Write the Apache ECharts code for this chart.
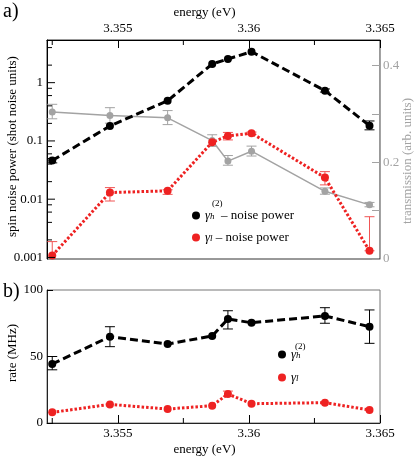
<!DOCTYPE html>
<html>
<head>
<meta charset="utf-8">
<script src="https://cdn.jsdelivr.net/npm/echarts@6/dist/echarts.min.js"></script>
<style>
html, body { margin: 0; padding: 0; background: #fff; }
#chart { width: 415px; height: 462px; }
</style>
</head>
<body>
<div id="chart"></div>
<script>
// photon energy of each measurement (eV)
const energy = [3.3525, 3.3547, 3.3569, 3.3586, 3.3592, 3.3601, 3.3629, 3.3646];

// a) spin noise power (shot noise units), gamma_h^(2) and gamma_l
const hNoise   = [0.046, 0.181, 0.49, 2.09, 2.55, 3.4, 0.73, 0.183];
const hNoiseLo = [0.042, null, null, null, null, null, 0.69, 0.155];
const hNoiseHi = [0.050, null, null, null, null, null, 0.78, 0.22];
const lNoise   = [0.00108, 0.013, 0.0139, 0.095, 0.122, 0.136, 0.0235, 0.0013];
const lNoiseLo = [0.0008, 0.0093, 0.0121, null, 0.104, 0.13, 0.0176, 0.0013];
const lNoiseHi = [0.00187, 0.0158, 0.0145, null, 0.14, 0.142, 0.0297, 0.005];

// a) transmission (arb. units)
const trans   = [0.304, 0.297, 0.292, 0.245, 0.2025, 0.223, 0.140, 0.112];
const transLo = [0.290, 0.281, 0.278, 0.233, 0.194, 0.213, 0.134, 0.108];
const transHi = [0.320, 0.313, 0.307, 0.257, 0.214, 0.2335, 0.147, 0.117];

// b) rates (MHz)
const hRate   = [44.4, 64.9, 59.4, 65.4, 78.2, 75.4, 80.5, 72.4];
const hRateLo = [40, 57.4, null, null, 70.7, null, 75, 59.9];
const hRateHi = [50, 72.4, null, null, 84.4, null, 86.7, 85];
const lRate   = [8, 14, 10.5, 13, 21.8, 14.5, 15.3, 9.8];
const lRateLo = [null, null, null, null, 20, null, null, null];
const lRateHi = [null, null, null, null, 24, null, null, null];

// tick values
const energyLabels = [3.355, 3.36, 3.365];
const energyMinor = [3.3525, 3.3575, 3.3625];
const noiseLabels = [0.001, 0.01, 0.1, 1];
const noiseMinor = [0.002, 0.004, 0.006, 0.008, 0.02, 0.04, 0.06, 0.08,
                    0.2, 0.4, 0.6, 0.8, 2, 4];
const transTicks = [0, 0.1, 0.2, 0.3, 0.4];
const transLabels = [0, 0.2, 0.4];
const rateLabels = [0, 50, 100];

// axis ranges
const E_MIN = 3.3523, E_MAX = 3.3650;
const N_MIN = 0.00094, N_MAX = 5.4;

const FONT = 'Liberation Serif';
const RED = '#ee2222';
const GRAY = '#a3a3a3';

function pairs(ys) {
  return energy.map((x, i) => [x, ys[i]]);
}
function bars(lo, hi) {
  const out = [];
  energy.forEach((x, i) => {
    if (lo[i] != null && hi[i] != null) out.push([x, lo[i], hi[i]]);
  });
  return out;
}
function errorBars(color, xi, yi, data) {
  return {
    type: 'custom', xAxisIndex: xi, yAxisIndex: yi,
    clip: true, silent: true,
    encode: { x: 0, y: [1, 2] },
    data: data,
    renderItem: function (params, api) {
      const lo = api.coord([api.value(0), api.value(1)]);
      const hi = api.coord([api.value(0), api.value(2)]);
      const w = 5;
      const st = { stroke: color, lineWidth: 1 };
      return {
        type: 'group',
        children: [
          { type: 'line', shape: { x1: lo[0], y1: lo[1], x2: hi[0], y2: hi[1] }, style: st },
          { type: 'line', shape: { x1: lo[0] - w, y1: lo[1], x2: lo[0] + w, y2: lo[1] }, style: st },
          { type: 'line', shape: { x1: hi[0] - w, y1: hi[1], x2: hi[0] + w, y2: hi[1] }, style: st }
        ]
      };
    }
  };
}
// short tick marks at data positions, pointing into the plot (dx, dy)
function tickMarks(xi, yi, data, dx, dy) {
  return {
    type: 'custom', xAxisIndex: xi, yAxisIndex: yi,
    clip: false, silent: true, z: 5,
    encode: { x: 0, y: 1 },
    data: data,
    renderItem: function (params, api) {
      const p = api.coord([api.value(0), api.value(1)]);
      return {
        type: 'line',
        shape: { x1: p[0], y1: p[1], x2: p[0] + dx, y2: p[1] + dy },
        style: { stroke: '#000', lineWidth: 1 }
      };
    }
  };
}

const legendText = {
  fontFamily: FONT, fontSize: 13, color: '#000',
  rich: {
    g: { fontFamily: FONT, fontSize: 13, fontStyle: 'italic' },
    s: { fontFamily: FONT, fontSize: 9, fontStyle: 'italic', padding: [3, 0, 0, 0] },
    t: { fontFamily: FONT, fontSize: 13 }
  }
};
const legendLabels = {
  hNoise: '{g|γ}{s|h}{t|  – noise power}',
  lNoise: '{g|γ}{s|l}{t| – noise power}',
  hRate: '{g|γ}{s|h}',
  lRate: '{g|γ}{s|l}'
};
function legend(name, left, top) {
  return {
    data: [name], left: left, top: top, orient: 'vertical',
    icon: 'circle', itemWidth: 8, itemHeight: 8, itemGap: 0, padding: 0,
    selectedMode: false, textStyle: legendText,
    formatter: n => legendLabels[n]
  };
}

const axisFont = { fontFamily: FONT, fontSize: 13, color: '#000' };

const option = {
  animation: false,
  grid: [
    { left: 47, top: 40, width: 333, height: 219, outerBoundsMode: 'none', containLabel: false,
      show: true, borderColor: '#333', borderWidth: 1 },
    { left: 47, top: 290, width: 333, height: 133, outerBoundsMode: 'none', containLabel: false,
      show: true, borderColor: '#777', borderWidth: 1 }
  ],
  xAxis: [
    {
      gridIndex: 0, type: 'value', position: 'top', min: E_MIN, max: E_MAX,
      name: 'energy (eV)', nameLocation: 'middle', nameGap: 21, nameMoveOverlap: false,
      nameTextStyle: { fontFamily: FONT, fontSize: 13, color: '#000', padding: [0, 18, 0, 0] },
      axisLine: { onZero: false, lineStyle: { color: '#000' } },
      axisTick: { show: true, inside: true, length: 8, customValues: energyLabels, lineStyle: { color: '#000' } },
      axisLabel: Object.assign({ margin: 5, customValues: energyLabels, formatter: v => String(+v.toFixed(4)) }, axisFont),
      splitLine: { show: false }
    },
    {
      gridIndex: 1, type: 'value', position: 'bottom', min: E_MIN, max: E_MAX,
      name: 'energy (eV)', nameLocation: 'middle', nameGap: 20, nameMoveOverlap: false,
      nameTextStyle: { fontFamily: FONT, fontSize: 13, color: '#000', padding: [0, 18, 0, 0] },
      axisLine: { onZero: false, lineStyle: { color: '#222' } },
      axisTick: { show: true, inside: true, length: 8, customValues: energyLabels, lineStyle: { color: '#000' } },
      axisLabel: Object.assign({ margin: 4, customValues: energyLabels, formatter: v => String(+v.toFixed(4)) }, axisFont),
      splitLine: { show: false }
    }
  ],
  yAxis: [
    {
      gridIndex: 0, type: 'log', position: 'left', min: N_MIN, max: N_MAX,
      name: 'spin noise power (shot noise units)', nameLocation: 'middle', nameGap: 28, nameMoveOverlap: false,
      nameTextStyle: { fontFamily: FONT, fontSize: 13, color: '#000', padding: [0, 0, 0, 6] },
      axisLine: { onZero: false, lineStyle: { color: '#000' } },
      axisTick: { show: false },
      axisLabel: Object.assign({ margin: 4, customValues: noiseLabels, formatter: v => String(+(+v).toPrecision(3)) }, axisFont),
      splitLine: { show: false }
    },
    {
      gridIndex: 0, type: 'value', position: 'right', min: 0, max: 0.453,
      name: 'transmission (arb. units)', nameLocation: 'middle', nameGap: 21, nameMoveOverlap: false,
      nameTextStyle: { fontFamily: FONT, fontSize: 13, color: GRAY, padding: [0, 23, 0, 0] },
      axisLine: { onZero: false, lineStyle: { color: GRAY } },
      axisTick: { show: true, inside: true, length: 8, customValues: transTicks, lineStyle: { color: GRAY } },
      axisLabel: { margin: 3, customValues: transLabels, fontFamily: FONT, fontSize: 13, color: GRAY },
      splitLine: { show: false }
    },
    {
      gridIndex: 1, type: 'value', position: 'left', min: 0, max: 100, interval: 50,
      name: 'rate (MHz)', nameLocation: 'middle', nameGap: 28, nameMoveOverlap: false,
      nameTextStyle: { fontFamily: FONT, fontSize: 13, color: '#000', padding: [0, 0, 0, 7] },
      axisLine: { onZero: false, lineStyle: { color: '#222' } },
      axisTick: { show: true, inside: true, length: 6, customValues: rateLabels, lineStyle: { color: '#000' } },
      axisLabel: Object.assign({ margin: 4, customValues: rateLabels }, axisFont),
      splitLine: { show: false }
    }
  ],
  legend: [
    legend('hNoise', 192, 209),
    legend('lNoise', 192, 231),
    legend('hRate', 278, 348),
    legend('lRate', 278, 371)
  ],
  graphic: [
    { type: 'text', left: 3, top: 2, style: { text: 'a)', font: '20px "Liberation Serif"', fill: '#000' } },
    { type: 'text', left: 3, top: 282, style: { text: 'b)', font: '20px "Liberation Serif"', fill: '#000' } },
    { type: 'text', left: 212, top: 199, style: { text: '(2)', font: '9px "Liberation Serif"', fill: '#000' } },
    { type: 'text', left: 295, top: 342, style: { text: '(2)', font: '9px "Liberation Serif"', fill: '#000' } }
  ],
  series: [
    // log-axis ticks (decades long, 2-4-6-8 short) and energy minor ticks
    tickMarks(0, 0, noiseLabels.filter(v => v <= N_MAX).map(v => [E_MIN, v]), 8, 0),
    tickMarks(0, 0, noiseMinor.map(v => [E_MIN, v]), 5, 0),
    tickMarks(0, 0, energyMinor.map(v => [v, N_MAX]), 0, 5),
    tickMarks(1, 2, energyMinor.map(v => [v, 0]), 0, -5),

    errorBars(GRAY, 0, 1, bars(transLo, transHi)),
    {
      name: 'trans', type: 'line', xAxisIndex: 0, yAxisIndex: 1, data: pairs(trans),
      symbol: 'circle', symbolSize: 7, itemStyle: { color: GRAY },
      lineStyle: { color: GRAY, width: 1.5 }
    },
    errorBars('#f05555', 0, 0, bars(lNoiseLo, lNoiseHi)),
    {
      name: 'lNoise', type: 'line', xAxisIndex: 0, yAxisIndex: 0, data: pairs(lNoise),
      symbol: 'circle', symbolSize: 8, itemStyle: { color: RED },
      lineStyle: { color: RED, width: 3, type: [2.5, 2] }
    },
    errorBars('#000', 0, 0, bars(hNoiseLo, hNoiseHi)),
    {
      name: 'hNoise', type: 'line', xAxisIndex: 0, yAxisIndex: 0, data: pairs(hNoise),
      symbol: 'circle', symbolSize: 8, itemStyle: { color: '#000' },
      lineStyle: { color: '#000', width: 3, type: [8, 4] }
    },
    errorBars('#f05555', 1, 2, bars(lRateLo, lRateHi)),
    {
      name: 'lRate', type: 'line', xAxisIndex: 1, yAxisIndex: 2, data: pairs(lRate),
      symbol: 'circle', symbolSize: 8, itemStyle: { color: RED },
      lineStyle: { color: RED, width: 3, type: [2.5, 2] }
    },
    errorBars('#000', 1, 2, bars(hRateLo, hRateHi)),
    {
      name: 'hRate', type: 'line', xAxisIndex: 1, yAxisIndex: 2, data: pairs(hRate),
      symbol: 'circle', symbolSize: 8, itemStyle: { color: '#000' },
      lineStyle: { color: '#000', width: 3, type: [8, 4] }
    }
  ]
};

const chart = echarts.init(document.getElementById('chart'));
chart.setOption(option);
</script>
</body>
</html>
